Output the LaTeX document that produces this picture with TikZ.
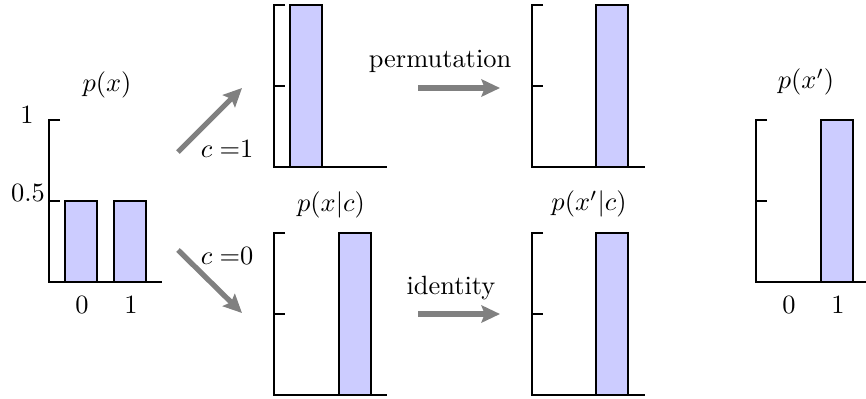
\documentclass[tikz,border=0pt]{standalone}
\usetikzlibrary{arrows.meta}
\tikzset{
  axisline/.style={draw=black, line width=0.8pt},
  barbox/.style={draw=black, fill=blue!20, line width=0.8pt},
  flow/.style={draw=black!50, line width=2pt, -{Stealth[length=7pt,width=6.5pt,inset=1.2pt]}},
  lbl/.style={inner sep=0pt, outer sep=0pt},
}
\newcommand{\histframe}{%
  \draw[axisline] (11,-162) -- (0,-162) -- (0,0) -- (113,0);
  \draw[axisline] (0,-81) -- (11,-81);
}
\begin{document}
\begin{tikzpicture}[x={(0.3788pt,0)}, y={(0,-0.3788pt)}]
\useasboundingbox (0,0) rectangle (866,398);

% ---- left: p(x)
\begin{scope}[shift={(49,282)}]
  \histframe
  \draw[barbox] (16,0) rectangle (48,-81);
  \draw[barbox] (65,0) rectangle (97,-81);
\end{scope}
\node[lbl] (px) at (107,85) {$p(x)$};
\node[lbl] (yone) at (27,115) {1};
\node[lbl] (yhalf) at (28,193) {0.5};
\node[lbl] (xzero) at (82,305) {0};
\node[lbl] (xone) at (131,305) {1};

% ---- top middle
\begin{scope}[shift={(274,167)}]
  \histframe
  \draw[barbox] (16,0) rectangle (48,-162);
\end{scope}
% ---- bottom middle
\begin{scope}[shift={(274,395)}]
  \histframe
  \draw[barbox] (65,0) rectangle (97,-162);
\end{scope}
\node[lbl] (pxc) at (331,205) {$p(x|c)$};

% ---- top right
\begin{scope}[shift={(532,167)}]
  \histframe
  \draw[barbox] (64,0) rectangle (96,-162);
\end{scope}
% ---- bottom right
\begin{scope}[shift={(532,395)}]
  \histframe
  \draw[barbox] (64,0) rectangle (96,-162);
\end{scope}
\node[lbl] (pxpc) at (589,204) {$p(x'|c)$};

% ---- far right: p(x')
\begin{scope}[shift={(756,282)}]
  \histframe
  \draw[barbox] (65,0) rectangle (97,-162);
\end{scope}
\node[lbl] (pxp) at (806,82) {$p(x')$};
\node[lbl] (xzeroB) at (789,305) {0};
\node[lbl] (xoneB) at (838,305) {1};

% ---- arrows
\coordinate (upS) at (178,152);
\coordinate (upE) at (242,88);
\coordinate (dnS) at (178,250);
\coordinate (dnE) at (242,313);
\coordinate (permS) at (418,88);
\coordinate (permE) at (500,88);
\coordinate (idS) at (418,314);
\coordinate (idE) at (500,314);
\draw[flow] (upS) -- (upE);
\draw[flow] (dnS) -- (dnE);
\draw[flow] (permS) -- (permE);
\draw[flow] (idS) -- (idE);

\node[lbl] (cone) at (227,149) {$c=$1};
\node[lbl] (czero) at (227,256) {$c=$0};
\node[lbl] (perm) at (440,61) {permutation};
\node[lbl] (ident) at (451,288) {identity};
\end{tikzpicture}
\end{document}
